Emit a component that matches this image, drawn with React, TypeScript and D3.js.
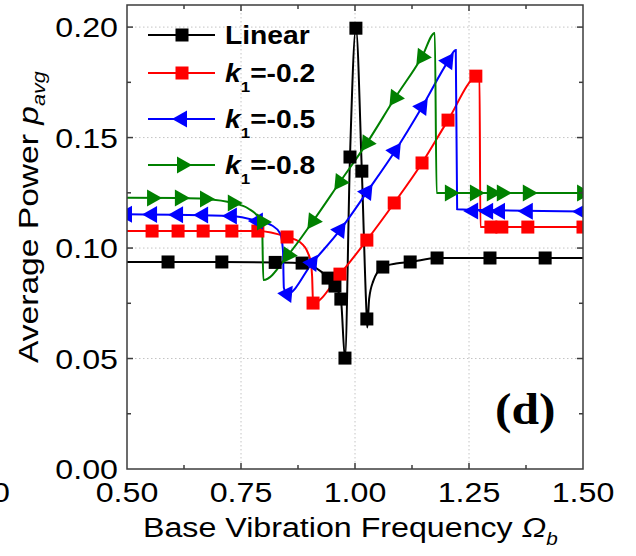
import React from 'react';
import * as d3 from 'd3';

// axis ticks
const xTicks = [0.5, 0.75, 1.0, 1.25, 1.5];
const xMinor = [0.625, 0.875, 1.125, 1.375];
const yTicks = [0, 0.05, 0.1, 0.15, 0.2];
const yMinor = [0.025, 0.075, 0.125, 0.175];
const xLabels = ['0.50', '0.75', '1.00', '1.25', '1.50'];
const yLabels = ['0.00', '0.05', '0.10', '0.15', '0.20'];

// Linear
const linearLine: [number, number][] = [
  [0.5, 0.0937], [0.59, 0.0937], [0.708, 0.0937], [0.825, 0.0935], [0.884, 0.0932],
  [0.941, 0.0864], [0.956, 0.0828], [0.969, 0.0769], [0.978, 0.0502], [0.989, 0.1412],
  [1.002, 0.1995], [1.015, 0.1348], [1.025, 0.072], [1.027, 0.064], [1.031, 0.077],
  [1.04, 0.085], [1.061, 0.0914], [1.09, 0.093], [1.121, 0.0937], [1.18, 0.0955], [1.5, 0.0955],
];
const linearMarks: [number, number][] = [
  [0.59, 0.0937], [0.708, 0.0937], [0.825, 0.0935], [0.884, 0.0932], [0.941, 0.0864],
  [0.956, 0.0828], [0.969, 0.0769], [0.978, 0.0502], [0.989, 0.1412], [1.002, 0.1995],
  [1.015, 0.1348], [1.026, 0.0679], [1.061, 0.0914], [1.121, 0.0937], [1.18, 0.0955],
  [1.296, 0.0955], [1.417, 0.0955],
];

// k1 = -0.2
const redLine: [number, number][] = [
  [0.5, 0.1077], [0.787, 0.1077], [0.851, 0.105], [0.879, 0.1027], [0.897, 0.0977],
  [0.903, 0.0935], [0.906, 0.087], [0.908, 0.0751], [0.967, 0.0882], [1.026, 0.1036],
  [1.086, 0.1204], [1.147, 0.1385], [1.204, 0.1579], [1.265, 0.1778], [1.273, 0.1785],
  [1.275, 0.1095], [1.5, 0.1095],
];
const redMarks: [number, number][] = [
  [0.555, 0.1077], [0.612, 0.1077], [0.667, 0.1077], [0.73, 0.1077], [0.787, 0.1077],
  [0.851, 0.105], [0.908, 0.0751], [0.967, 0.0882], [1.026, 0.1036], [1.086, 0.1204],
  [1.147, 0.1385], [1.204, 0.1579], [1.265, 0.1778], [1.298, 0.1095], [1.322, 0.1095],
  [1.379, 0.1095], [1.5, 0.1095],
];

// k1 = -0.5
const blueLine: [number, number][] = [
  [0.5, 0.1153], [0.73, 0.1145], [0.787, 0.1122], [0.818, 0.1102], [0.836, 0.1066],
  [0.842, 0.099], [0.844, 0.082], [0.851, 0.0792], [0.906, 0.0932], [0.967, 0.1081],
  [1.026, 0.1253], [1.088, 0.1439], [1.147, 0.1638], [1.204, 0.1845], [1.221, 0.1896],
  [1.224, 0.1176], [1.5, 0.1165],
];
const blueFlatMarks: [number, number][] = [
  [0.5, 0.1153], [0.555, 0.1152], [0.612, 0.1151], [0.667, 0.115], [0.73, 0.1145], [0.787, 0.1122],
  [1.259, 0.1168], [1.292, 0.1167], [1.318, 0.1167], [1.379, 0.1166], [1.498, 0.1165],
];
const blueBranchMarks: [number, number][] = [
  [0.851, 0.0792], [0.906, 0.0932], [0.967, 0.1081], [1.026, 0.1253],
  [1.088, 0.1439], [1.147, 0.1638], [1.204, 0.1845],
];

// k1 = -0.8
const greenLine: [number, number][] = [
  [0.5, 0.1228], [0.616, 0.1226], [0.671, 0.1222], [0.732, 0.1204], [0.765, 0.118],
  [0.796, 0.1118], [0.799, 0.0855], [0.853, 0.0968], [0.908, 0.1122], [0.967, 0.1299],
  [1.026, 0.1475], [1.088, 0.168], [1.147, 0.1866], [1.175, 0.1973], [1.179, 0.1249],
  [1.5, 0.1249],
];
const greenFlatMarks: [number, number][] = [
  [0.555, 0.1226], [0.616, 0.1226], [0.671, 0.1222], [0.732, 0.1204], [0.796, 0.1118],
  [1.208, 0.1249], [1.263, 0.1249], [1.3, 0.1249], [1.322, 0.1249], [1.379, 0.1249], [1.498, 0.1249],
];
const greenBranchMarks: [number, number][] = [
  [0.853, 0.0968], [0.908, 0.1122], [0.967, 0.1299], [1.026, 0.1475], [1.088, 0.168], [1.147, 0.1866],
];

const legendNames = ['Linear', '=-0.2', '=-0.5', '=-0.8'];

const W = 636;
const H = 556;
const left = 127, right = 583, top = 5, bottom = 469;

const x = d3.scaleLinear().domain([0.5, 1.5]).range([left, right]);
const y = d3.scaleLinear().domain([0, 0.21]).range([bottom, top]);

const line = d3.line<[number, number]>()
  .x(d => x(d[0]))
  .y(d => y(d[1]))
  .curve(d3.curveMonotoneX);

const SANS = 'Liberation Sans, Arial, sans-serif';
const RED = '#ff0000';
const BLUE = '#0000ff';
const GREEN = '#008000';

const tri = 'M-5,-8.5L10,0L-5,8.5Z';

const Square = ({ cx, cy, fill }: { cx: number; cy: number; fill: string }) => (
  <rect x={cx - 6.5} y={cy - 6.5} width={13} height={13} fill={fill} />
);
const Tri = ({ cx, cy, fill, angle }: { cx: number; cy: number; fill: string; angle: number }) => (
  <path d={tri} fill={fill} transform={`translate(${cx},${cy}) rotate(${angle})`} />
);

// angle (deg) of a branch in pixel space, from point a to point b
const branchAngle = (a: [number, number], b: [number, number]) =>
  (Math.atan2(y(b[1]) - y(a[1]), x(b[0]) - x(a[0])) * 180) / Math.PI;

export default function App() {
  const blueAngle = branchAngle(blueLine[7], blueLine[14]);
  const greenAngle = branchAngle(greenLine[13], greenLine[6]);
  const legendY = [35, 73, 119, 165];

  return (
    <svg width={W} height={H} style={{ position: 'absolute', left: 0, top: 0, background: '#fff' }}>
      <defs>
        <clipPath id="plot">
          <rect x={left} y={top} width={right - left} height={bottom - top} />
        </clipPath>
      </defs>
      <rect width={W} height={H} fill="#fff" />

      {/* grid */}
      <g stroke="#c4c4c4" strokeWidth={1} strokeDasharray="1.5,2.5">
        {xTicks.slice(1, -1).map(t => (
          <line key={'gx' + t} x1={x(t)} x2={x(t)} y1={top} y2={bottom} />
        ))}
        {yTicks.slice(1).map(t => (
          <line key={'gy' + t} x1={left} x2={right} y1={y(t)} y2={y(t)} />
        ))}
      </g>

      {/* series */}
      <g clipPath="url(#plot)" fill="none" strokeWidth={2}>
        <path d={line(linearLine) || ''} stroke="#000" />
        <path d={line(redLine) || ''} stroke={RED} />
        <path d={line(blueLine) || ''} stroke={BLUE} />
        <path d={line(greenLine) || ''} stroke={GREEN} />
      </g>
      <g clipPath="url(#plot)">
        {linearMarks.map((d, i) => <Square key={'k' + i} cx={x(d[0])} cy={y(d[1])} fill="#000" />)}
        {redMarks.map((d, i) => <Square key={'r' + i} cx={x(d[0])} cy={y(d[1])} fill={RED} />)}
        {blueFlatMarks.map((d, i) => <Tri key={'bf' + i} cx={x(d[0])} cy={y(d[1])} fill={BLUE} angle={180} />)}
        {blueBranchMarks.map((d, i) => <Tri key={'bb' + i} cx={x(d[0])} cy={y(d[1])} fill={BLUE} angle={blueAngle} />)}
        {greenFlatMarks.map((d, i) => <Tri key={'gf' + i} cx={x(d[0])} cy={y(d[1])} fill={GREEN} angle={0} />)}
        {greenBranchMarks.map((d, i) => <Tri key={'gb' + i} cx={x(d[0])} cy={y(d[1])} fill={GREEN} angle={greenAngle} />)}
      </g>

      {/* frame and ticks */}
      <g stroke="#3c3c3c" strokeWidth={1.5}>
        <rect x={left} y={top} width={right - left} height={bottom - top} fill="none" />
        {xTicks.slice(1, -1).map(t => (
          <g key={'tx' + t}>
            <line x1={x(t)} x2={x(t)} y1={bottom} y2={bottom - 6} />
            <line x1={x(t)} x2={x(t)} y1={top} y2={top + 6} />
          </g>
        ))}
        {xMinor.map(t => (
          <g key={'mx' + t}>
            <line x1={x(t)} x2={x(t)} y1={bottom} y2={bottom - 4} />
            <line x1={x(t)} x2={x(t)} y1={top} y2={top + 4} />
          </g>
        ))}
        {yTicks.slice(1).map(t => (
          <g key={'ty' + t}>
            <line x1={left} x2={left + 6} y1={y(t)} y2={y(t)} />
            <line x1={right} x2={right - 6} y1={y(t)} y2={y(t)} />
          </g>
        ))}
        {yMinor.map(t => (
          <g key={'my' + t}>
            <line x1={left} x2={left + 4} y1={y(t)} y2={y(t)} />
            <line x1={right} x2={right - 4} y1={y(t)} y2={y(t)} />
          </g>
        ))}
      </g>

      {/* tick labels */}
      <g fontFamily={SANS} fontSize={28} fill="#000">
        {xTicks.map((t, i) => (
          <text key={'lx' + t} transform={`translate(${x(t)},502) scale(1.15,1)`} textAnchor="middle">
            {xLabels[i]}
          </text>
        ))}
        {yTicks.map((t, i) => (
          <text key={'ly' + t} transform={`translate(118,${y(t) + 10}) scale(1.15,1)`} textAnchor="end">
            {yLabels[i]}
          </text>
        ))}
        <text transform="translate(10,502) scale(1.15,1)" textAnchor="end">0</text>
      </g>

      {/* axis titles */}
      <text fontFamily={SANS} fontSize={28} transform="translate(143,537) scale(1.15,1)">
        Base Vibration Frequency <tspan fontStyle="italic">Ω</tspan>
        <tspan fontStyle="italic" fontSize={18} dy={8}>b</tspan>
      </text>
      <text fontFamily={SANS} fontSize={28} transform="translate(38,363) rotate(-90) scale(1.2,1)">
        Average Power <tspan fontStyle="italic">p</tspan>
        <tspan fontStyle="italic" fontSize={18} dy={7}>avg</tspan>
      </text>

      {/* legend */}
      <g>
        {legendY.map((ly, i) => {
          const col = [ '#000', RED, BLUE, GREEN ][i];
          const mx = 182;
          return (
            <g key={'lg' + i}>
              <line x1={148} x2={215} y1={ly} y2={ly} stroke={col} strokeWidth={2} />
              {i < 2 && <Square cx={mx} cy={ly} fill={col} />}
              {i === 2 && <Tri cx={mx} cy={ly} fill={col} angle={180} />}
              {i === 3 && <Tri cx={mx} cy={ly} fill={col} angle={0} />}
              <text fontFamily={SANS} fontWeight="bold" fontSize={25}
                transform={`translate(225,${ly + 9}) scale(1.13,1)`}>
                {i === 0 ? legendNames[0] : (
                  <>
                    <tspan fontStyle="italic">k</tspan>
                    <tspan fontSize={15} dy={10}>1</tspan>
                    <tspan dy={-10}>{legendNames[i]}</tspan>
                  </>
                )}
              </text>
            </g>
          );
        })}
      </g>

      {/* panel label */}
      <text fontFamily="Liberation Serif, Times New Roman, serif" fontWeight="bold" fontSize={45}
        transform="translate(495,424) scale(1.1,1)">(d)</text>
    </svg>
  );
}
